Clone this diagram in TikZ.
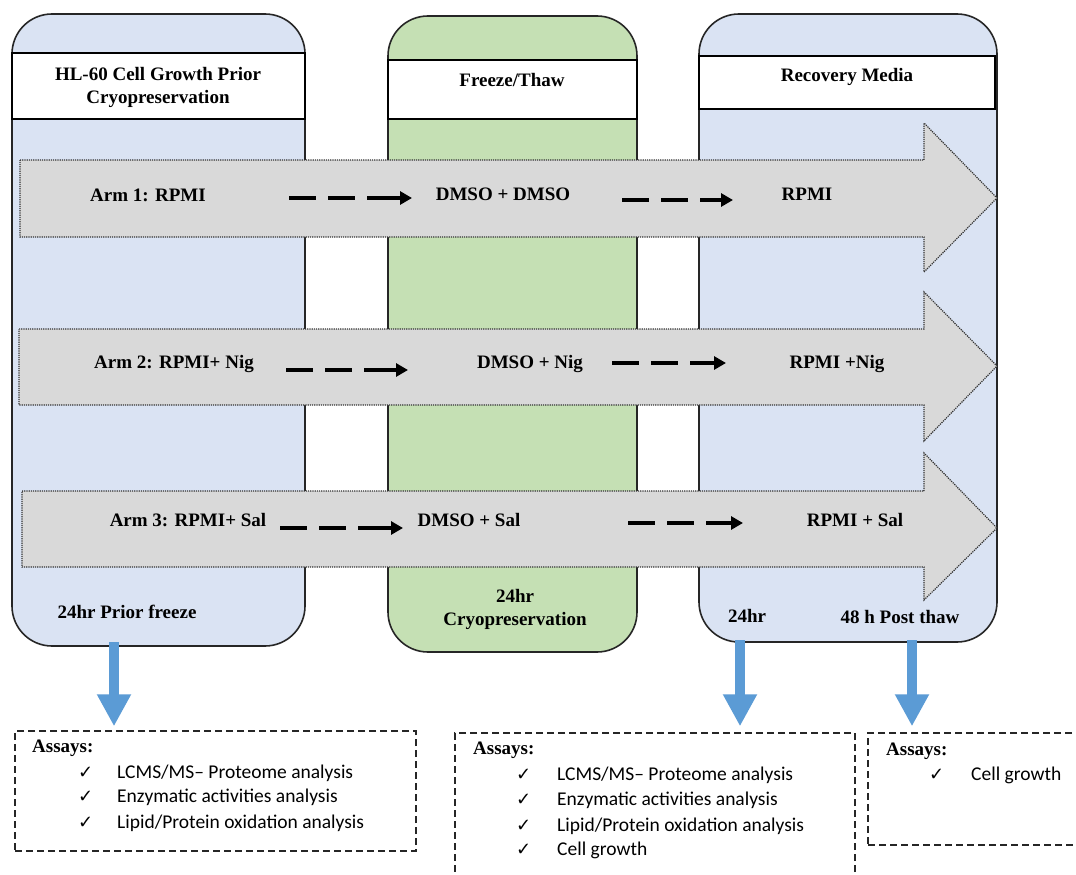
\documentclass[tikz,border=0pt]{standalone}
\usepackage{fontspec}
\setmainfont{Liberation Serif}
\newfontfamily\calib{Carlito}
\newfontfamily\djv{DejaVu Sans}
\usetikzlibrary{arrows.meta}
\definecolor{colblue}{HTML}{DAE3F3}
\definecolor{colgreen}{HTML}{C5E0B4}
\definecolor{armgray}{HTML}{D9D9D9}
\definecolor{bluearrow}{HTML}{5B9BD5}
\tikzset{
  column/.style={draw=black!85, line width=1.6pt, rounded corners=40pt, inner sep=0},
  header/.style={draw=black, line width=1.6pt, fill=white, inner sep=0},
  armarrow/.style={fill=armgray, draw=black!80, densely dotted, line width=1.2pt},
  lbl/.style={font=\bfseries\fontsize{19}{23}\selectfont, inner sep=0, text height=13pt, text depth=4pt, align=center},
  hdr/.style={font=\bfseries\fontsize{19}{23}\selectfont, inner sep=0, align=center},
  dashpart/.style={line width=3.5pt, dash pattern=on 27pt off 12pt},
  arrowpart/.style={line width=3.5pt, -{Triangle[length=12pt,width=13pt]}},
  bluearr/.style={draw=bluearrow, line width=10pt, -{Triangle[length=32pt,width=32pt]}},
  assaybox/.style={draw=black!85, line width=1.4pt, dash pattern=on 7pt off 4pt, inner sep=0},
  asy/.style={font=\bfseries\fontsize{19}{22}\selectfont, anchor=west, inner sep=0},
  item/.style={font=\calib\fontsize{19.5}{22}\selectfont, anchor=west, inner sep=0},
  chk/.style={font=\djv\fontsize{18}{20}\selectfont, anchor=west, inner sep=0}
}
\begin{document}
\begin{tikzpicture}[x=1pt,y=-1pt]
\useasboundingbox (0,0) rectangle (1076,875);
\fill[white] (0,0) rectangle (1076,875);

% columns
\node[column, fill=colblue, minimum width=293pt, minimum height=632pt] (col1) at (158.5,330) {};
\node[column, fill=colgreen, minimum width=249pt, minimum height=636pt] (col2) at (512.5,334) {};
\node[column, fill=colblue, minimum width=298pt, minimum height=628pt] (col3) at (848,328) {};

% headers
\node[header, minimum width=293pt, minimum height=66pt] (h1) at (158.5,86) {};
\node[header, minimum width=249pt, minimum height=59pt] (h2) at (512.5,89.5) {};
\node[header, minimum width=296pt, minimum height=53pt] (h3) at (847,82.5) {};
\node[hdr] (h1t) at (158,87) {HL-60 Cell Growth Prior\\Cryopreservation};
\node[hdr] (h2t) at (512,80) {Freeze/Thaw};
\node[hdr] (h3t) at (847,77) {Recovery Media};

% arm arrows
\draw[armarrow] (20,160) -- (924,160) -- (924,123) -- (997,198) -- (924,272) -- (924,237) -- (20,237) -- cycle;
\draw[armarrow] (19,329) -- (924,329) -- (924,292) -- (997,366) -- (924,441) -- (924,405) -- (19,405) -- cycle;
\draw[armarrow] (22,491) -- (924,491) -- (924,453) -- (997,528) -- (924,600) -- (924,567) -- (22,567) -- cycle;

% arm labels
\node[lbl] (a1) at (148,197) {Arm 1: RPMI};
\node[lbl] (b1) at (503,196) {DMSO + DMSO};
\node[lbl] (c1) at (807,196) {RPMI};
\node[lbl] (a2) at (174,364) {Arm 2: RPMI+ Nig};
\node[lbl] (b2) at (530,364) {DMSO + Nig};
\node[lbl] (c2) at (837,364) {RPMI +Nig};
\node[lbl] (a3) at (188,522) {Arm 3: RPMI+ Sal};
\node[lbl] (b3) at (469,522) {DMSO + Sal};
\node[lbl] (c3) at (855,522) {RPMI + Sal};

% dashed arrows
\foreach \n/\sx/\ex/\yy in {p1/289/412/198, q1/622/733/200, p2/286/408/370, q2/612/726/363, p3/280/403/528, q3/628/743/523}{
  \coordinate (\n s) at (\sx,\yy);
  \coordinate (\n m) at (\sx+78,\yy);
  \coordinate (\n e) at (\ex,\yy);
  \draw[dashpart] (\n s) -- (\n m);
  \draw[arrowpart] (\n m) -- (\n e);
}

% bottom labels
\node[hdr] (t1) at (127,612) {24hr Prior freeze};
\node[hdr] (t2) at (515,609) {24hr\\Cryopreservation};
\node[hdr] (t3) at (747,616) {24hr};
\node[hdr] (t4) at (900,617) {48 h Post thaw};

% assay boxes
\node[assaybox, minimum width=401pt, minimum height=120pt] (box1) at (215.5,791) {};
\node[assaybox, minimum width=400pt, minimum height=157pt] (box2) at (655,811.5) {};
\node[assaybox, minimum width=222pt, minimum height=112pt] (box3) at (979,789) {};

% blue arrows
\coordinate (s1) at (114,642);
\coordinate (s2) at (740,640);
\coordinate (s3) at (912,640);
\draw[bluearr, shorten >=4pt] (s1) -- (s1 |- box1.north);
\draw[bluearr, shorten >=6pt] (s2) -- (s2 |- box2.north);
\draw[bluearr, shorten >=6pt] (s3) -- (s3 |- box3.north);

% box 1 text
\node[asy] (ax1) at (32,748) {Assays:};
\foreach \yy/\tx [count=\i] in {773/{LCMS/MS– Proteome analysis}, 797/{Enzymatic activities analysis}, 823/{Lipid/Protein oxidation analysis}}{
  \node[chk] (k1\i) at (78,\yy) {✓};
  \node[item] (i1\i) at (117,\yy) {\tx};
}
% box 2 text
\node[asy] (ax2) at (473,750) {Assays:};
\foreach \yy/\tx [count=\i] in {775/{LCMS/MS– Proteome analysis}, 800/{Enzymatic activities analysis}, 826/{Lipid/Protein oxidation analysis}, 850/{Cell growth}}{
  \node[chk] (k2\i) at (516,\yy) {✓};
  \node[item] (i2\i) at (557,\yy) {\tx};
}
% box 3 text
\node[asy] (ax3) at (886,751) {Assays:};
\node[chk] (k31) at (929,775) {✓};
\node[item] (i31) at (971,775) {Cell growth};
\end{tikzpicture}
\end{document}
